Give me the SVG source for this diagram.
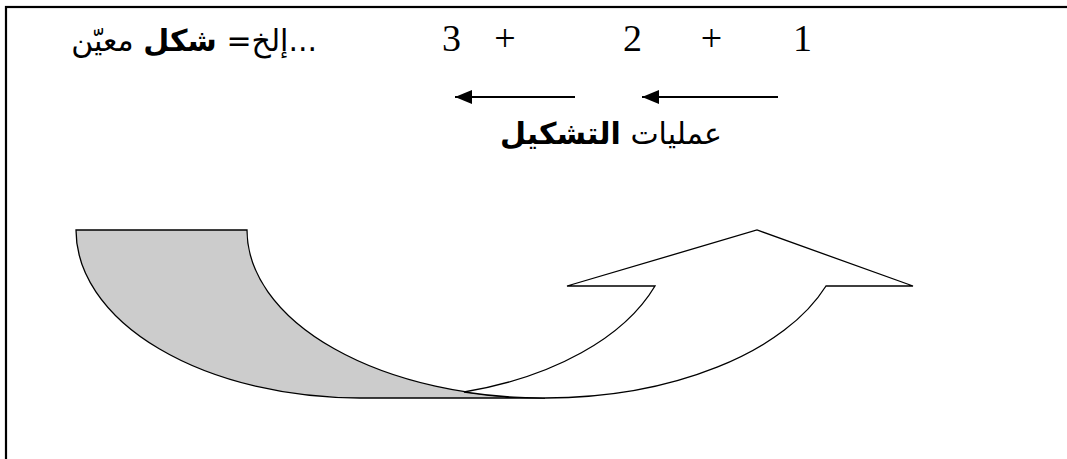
<svg xmlns="http://www.w3.org/2000/svg" width="1067" height="459" viewBox="0 0 1067 459">
  <style>
    .num { font-family: "Liberation Serif", "Times New Roman", serif; font-size: 38px; fill: #000; }
    .ar { font-family: "DejaVu Sans", "Noto Sans", sans-serif; font-size: 30px; fill: #000; }
    .shape { stroke: #000; stroke-width: 1.3; stroke-linejoin: miter; }
    .conn { stroke: #000; stroke-width: 2.2; fill: none; }
  </style>
  <defs>
    <marker id="head" markerUnits="userSpaceOnUse" markerWidth="18" markerHeight="15" refX="17" refY="7" orient="auto">
      <path d="M0,0 L17,7 L0,14 Z" fill="#000"/>
    </marker>
  </defs>
  <rect x="0" y="0" width="1067" height="459" fill="#fff"/>
  <rect id="frame" x="6" y="7" width="1200" height="600" fill="none" stroke="#000" stroke-width="2.2"/>

  <g id="formula">
    <text class="num" x="451.5" y="51" text-anchor="middle">3</text>
    <text class="num" x="505" y="51" text-anchor="middle">+</text>
    <text class="num" x="632.5" y="51" text-anchor="middle">2</text>
    <text class="num" x="711.5" y="51" text-anchor="middle">+</text>
    <text class="num" x="802.5" y="51" text-anchor="middle">1</text>
    <text class="ar" x="317" y="51" direction="rtl" unicode-bidi="embed" text-anchor="start">...إلخ= <tspan font-weight="bold">شكل</tspan> معيّن</text>
  </g>

  <g id="label">
    <text class="ar" x="722" y="144" direction="rtl" unicode-bidi="embed" text-anchor="start">عمليات <tspan font-weight="bold">التشكيل</tspan></text>
  </g>

  <g id="connectors">
    <line class="conn" x1="778" y1="97" x2="642" y2="97" marker-end="url(#head)"/>
    <line class="conn" x1="575" y1="97" x2="455" y2="97" marker-end="url(#head)"/>
  </g>

  <g id="curved-arrow">
    <path id="back" class="shape" fill="#cccccc" d="M76,230 H247 A298,168 0 0 0 545,398 H360 A284,168 0 0 1 76,230 Z"/>
    <path id="front" class="shape" fill="#ffffff" d="M464,392 A284,168 0 0 0 655,286 H567 L757,230 L913,286 H826 A298,168 0 0 1 545,398 A298,168 0 0 1 464,392 Z"/>
  </g>
</svg>
